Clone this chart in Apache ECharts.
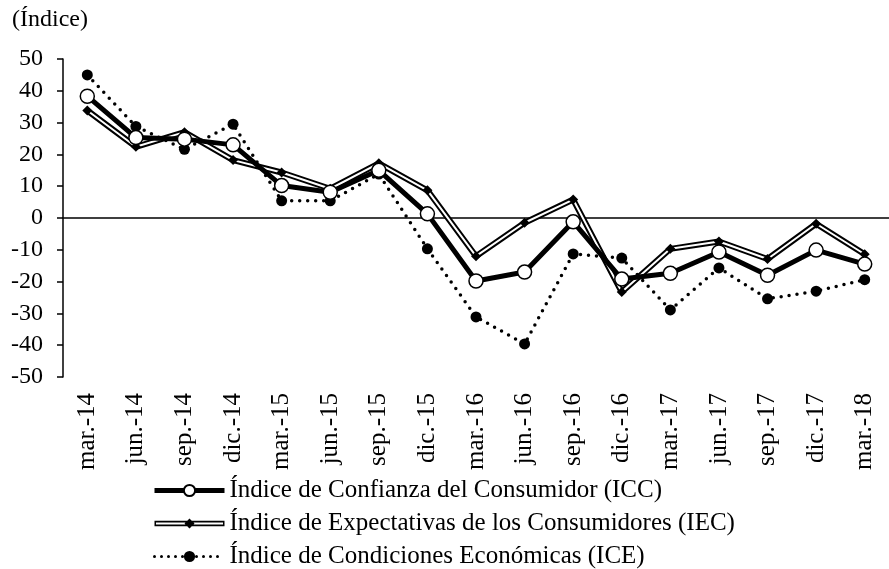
<!DOCTYPE html>
<html>
<head>
<meta charset="utf-8">
<script src="https://cdn.jsdelivr.net/npm/echarts@6/dist/echarts.min.js"></script>
<style>
  html, body { margin: 0; padding: 0; background: #fff; }
  #container { width: 889px; height: 569px; }
</style>
</head>
<body>
<div id="container"></div>
<script>
// trimestres
var categories = ['mar.-14', 'jun.-14', 'sep.-14', 'dic.-14', 'mar.-15', 'jun.-15', 'sep.-15', 'dic.-15',
    'mar.-16', 'jun.-16', 'sep.-16', 'dic.-16', 'mar.-17', 'jun.-17', 'sep.-17', 'dic.-17', 'mar.-18'];

var nameICC = 'Índice de Confianza del Consumidor (ICC)';
var nameIEC = 'Índice de Expectativas de los Consumidores (IEC)';
var nameICE = 'Índice de Condiciones Económicas (ICE)';

var icc = [38.3, 25.3, 24.8, 23.0, 10.2, 8.1, 15.0, 1.3, -19.8, -17.0, -1.2, -19.2, -17.4, -10.7, -18.0, -10.1, -14.5];
var iec = [33.8, 22.4, 27.0, 18.2, 14.3, 9.2, 17.2, 8.7, -12.0, -1.5, 5.8, -23.3, -9.7, -7.4, -12.9, -1.8, -11.4];
var ice = [45.0, 28.8, 21.6, 29.5, 5.4, 5.4, 13.8, -9.7, -31.1, -39.6, -11.3, -12.6, -28.9, -15.7, -25.4, -23.0, -19.4];

var yTicks = { min: -50, max: 50, interval: 10 };

var fontFam = '"Liberation Serif", "Times New Roman", serif';

var dom = document.getElementById('container');
var myChart = echarts.init(dom);

// icono de doble linea con rombo (para la leyenda)
var doubleLineIcon = 'path://M0 2.25 L70 2.25 L70 7.75 L0 7.75 Z' +
    ' M1.5 4 L1.5 6 L68.5 6 L68.5 4 Z' +
    ' M35 0 L40 5 L35 10 L30 5 Z';

var option = {
    backgroundColor: '#ffffff',
    animation: false,
    title: {
        text: '(Índice)',
        left: 12,
        top: 8,
        padding: 0,
        textStyle: { fontFamily: fontFam, fontSize: 24, fontWeight: 'normal', color: '#000' }
    },
    grid: { left: 63, right: -12, top: 59, bottom: 192 },
    legend: {
        orient: 'vertical',
        left: 152,
        top: 478,
        height: 95,
        padding: 0,
        itemWidth: 70,
        itemHeight: 14,
        itemGap: 8,
        selectedMode: false,
        textStyle: { fontFamily: fontFam, fontSize: 25, color: '#000' },
        data: [
            { name: nameICC, lineStyle: { width: 5, color: '#000' } },
            { name: nameIEC, icon: doubleLineIcon, itemStyle: { color: '#000', borderWidth: 0 } },
            { name: nameICE, lineStyle: { width: 3, color: '#000', type: [0, 7], cap: 'round' } }
        ]
    },
    xAxis: [
        {
            type: 'category',
            data: categories,
            boundaryGap: true,
            position: 'bottom',
            axisLine: { show: false, onZero: false },
            axisTick: { show: false },
            axisLabel: {
                rotate: 90, margin: 16, interval: 0,
                fontFamily: fontFam, fontSize: 25, color: '#000'
            }
        },
        {
            // linea del cero
            type: 'category',
            data: categories,
            boundaryGap: true,
            position: 'bottom',
            axisLine: { show: true, onZero: true, lineStyle: { color: '#000', width: 1.5 } },
            axisTick: { show: false },
            axisLabel: { show: false }
        }
    ],
    yAxis: {
        type: 'value',
        min: yTicks.min,
        max: yTicks.max,
        interval: yTicks.interval,
        axisLine: { show: true, lineStyle: { color: '#000', width: 1.5 } },
        axisTick: { show: true, inside: false, length: 6, lineStyle: { color: '#000', width: 1.5 } },
        splitLine: { show: false },
        axisLabel: { margin: 20, fontFamily: fontFam, fontSize: 24, color: '#000' }
    },
    series: [
        {
            name: nameIEC,
            type: 'line',
            data: iec,
            symbol: 'none',
            lineStyle: { color: '#000', width: 6 },
            itemStyle: { color: '#000' },
            z: 2
        },
        {
            name: 'iecInner',
            type: 'line',
            data: iec,
            symbol: 'diamond',
            symbolSize: 10,
            lineStyle: { color: '#fff', width: 2 },
            itemStyle: { color: '#000' },
            z: 3
        },
        {
            name: nameICE,
            type: 'line',
            data: ice,
            symbol: 'circle',
            symbolSize: 11,
            lineStyle: { color: '#000', width: 3.5, type: [0, 8], cap: 'round' },
            itemStyle: { color: '#000' },
            z: 4
        },
        {
            name: nameICC,
            type: 'line',
            data: icc,
            symbol: 'circle',
            symbolSize: 14,
            lineStyle: { color: '#000', width: 5 },
            itemStyle: { color: '#fff', borderColor: '#000', borderWidth: 1.5 },
            z: 5
        }
    ]
};

if (option && typeof option === "object") {
    myChart.setOption(option, true);
}
</script>
</body>
</html>
